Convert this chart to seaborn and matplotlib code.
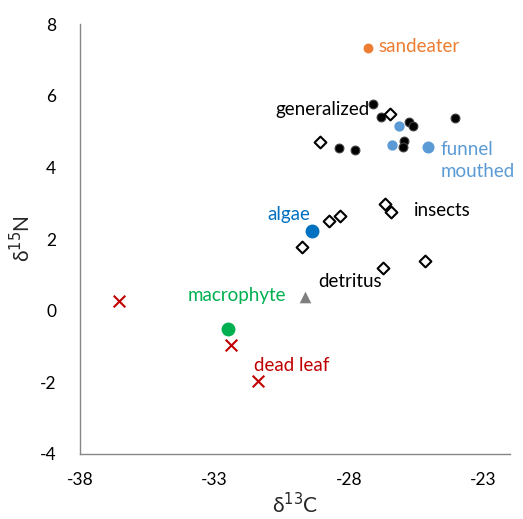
import matplotlib
matplotlib.use("Agg")
import matplotlib.pyplot as plt
import seaborn as sns
import pandas as pd

sns.set_theme(style="white")
plt.rcParams['font.family'] = ['Lato', 'DejaVu Sans']

# Data
sandeater_x = [-27.28]
sandeater_y = [7.34]
generalized_x = [-27.08, -26.81, -25.74, -25.60, -24.04, -28.37, -27.75, -25.93, -25.99]
generalized_y = [5.77, 5.40, 5.27, 5.14, 5.38, 4.54, 4.47, 4.73, 4.56]
insects_x = [-26.46, -29.07, -28.72, -28.32, -26.65, -26.44, -29.75, -26.71, -25.16]
insects_y = [5.49, 4.70, 2.51, 2.63, 2.99, 2.75, 1.79, 1.19, 1.38]
funnel_x = [-26.14, -26.40]
funnel_y = [5.14, 4.61]
funnel_big_x = [-25.04]
funnel_big_y = [4.57]
algae_x = [-29.35]
algae_y = [2.23]
macrophyte_x = [-32.48]
macrophyte_y = [-0.51]
detritus_x = [-29.63]
detritus_y = [0.39]
deadleaf_x = [-36.55, -32.38, -31.36]
deadleaf_y = [0.28, -0.97, -1.95]

x_ticks = [-38, -33, -28, -23]
y_ticks = [-4, -2, 0, 2, 4, 6, 8]

fig = plt.figure(figsize=(5.23, 5.19), dpi=100)
ax = fig.add_axes([80/523, 1-454/519, (510-80)/523, (454-24)/519])

def df(x, y):
    return pd.DataFrame({"x": x, "y": y})

sns.scatterplot(data=df(generalized_x, generalized_y), x="x", y="y", ax=ax,
                marker="o", s=40, color="black", edgecolor="#404040", linewidth=0.8, zorder=3)
sns.scatterplot(data=df(insects_x, insects_y), x="x", y="y", ax=ax,
                marker="D", s=36, facecolor="white", edgecolor="black", linewidth=1.5, zorder=3)
sns.scatterplot(data=df(funnel_x, funnel_y), x="x", y="y", ax=ax,
                marker="o", s=55, color="#5B9BD5", edgecolor="#5B9BD5", linewidth=0, zorder=3)
sns.scatterplot(data=df(funnel_big_x, funnel_big_y), x="x", y="y", ax=ax,
                marker="o", s=75, color="#5B9BD5", edgecolor="#5B9BD5", linewidth=0, zorder=3)
sns.scatterplot(data=df(sandeater_x, sandeater_y), x="x", y="y", ax=ax,
                marker="o", s=50, color="#ED7D31", edgecolor="#ED7D31", linewidth=0, zorder=3)
sns.scatterplot(data=df(algae_x, algae_y), x="x", y="y", ax=ax,
                marker="o", s=100, color="#0070C0", edgecolor="#0070C0", linewidth=0, zorder=3)
sns.scatterplot(data=df(macrophyte_x, macrophyte_y), x="x", y="y", ax=ax,
                marker="o", s=100, color="#00B050", edgecolor="#00B050", linewidth=0, zorder=3)
sns.scatterplot(data=df(detritus_x, detritus_y), x="x", y="y", ax=ax,
                marker="^", s=70, color="#7F7F7F", edgecolor="#7F7F7F", linewidth=0, zorder=3)
sns.scatterplot(data=df(deadleaf_x, deadleaf_y), x="x", y="y", ax=ax,
                marker="x", s=70, color="#C00000", linewidth=1.5, zorder=3)

ax.set_xlim(-38, -22)
ax.set_ylim(-4, 8)
ax.set_xticks(x_ticks)
ax.set_yticks(y_ticks)
ax.set_xticklabels([str(v) for v in x_ticks])
ax.set_yticklabels([str(v) for v in y_ticks])
ax.tick_params(axis="both", length=0, labelsize=12.5, colors="#000000")
ax.tick_params(axis="x", pad=13)
ax.tick_params(axis="y", pad=17)

for s in ["top", "right"]:
    ax.spines[s].set_visible(False)
for s in ["left", "bottom"]:
    ax.spines[s].set_color("#868686")
    ax.spines[s].set_linewidth(1.0)

ax.set_xlabel("δ$^{13}$C", fontsize=15, labelpad=3)
ax.set_ylabel("δ$^{15}$N", fontsize=15, labelpad=4)

fs = 13.5
ax.text(-26.91, 7.37, "sandeater", color="#ED7D31", fontsize=fs, va="center", ha="left")
ax.text(-27.21, 5.62, "generalized", color="black", fontsize=fs, va="center", ha="right")
ax.text(-24.57, 4.19, "funnel\nmouthed", color="#5B9BD5", fontsize=fs, va="center", ha="left",
        linespacing=1.35)
ax.text(-29.44, 2.68, "algae", color="#0070C0", fontsize=fs, va="center", ha="right")
ax.text(-25.57, 2.79, "insects", color="black", fontsize=fs, va="center", ha="left")
ax.text(-27.95, 0.81, "detritus", color="black", fontsize=fs, va="center", ha="center")
ax.text(-32.16, 0.42, "macrophyte", color="#00B050", fontsize=fs, va="center", ha="center")
ax.text(-31.52, -1.53, "dead leaf", color="#C00000", fontsize=fs, va="center", ha="left")

fig.savefig("out.png", dpi=100)
